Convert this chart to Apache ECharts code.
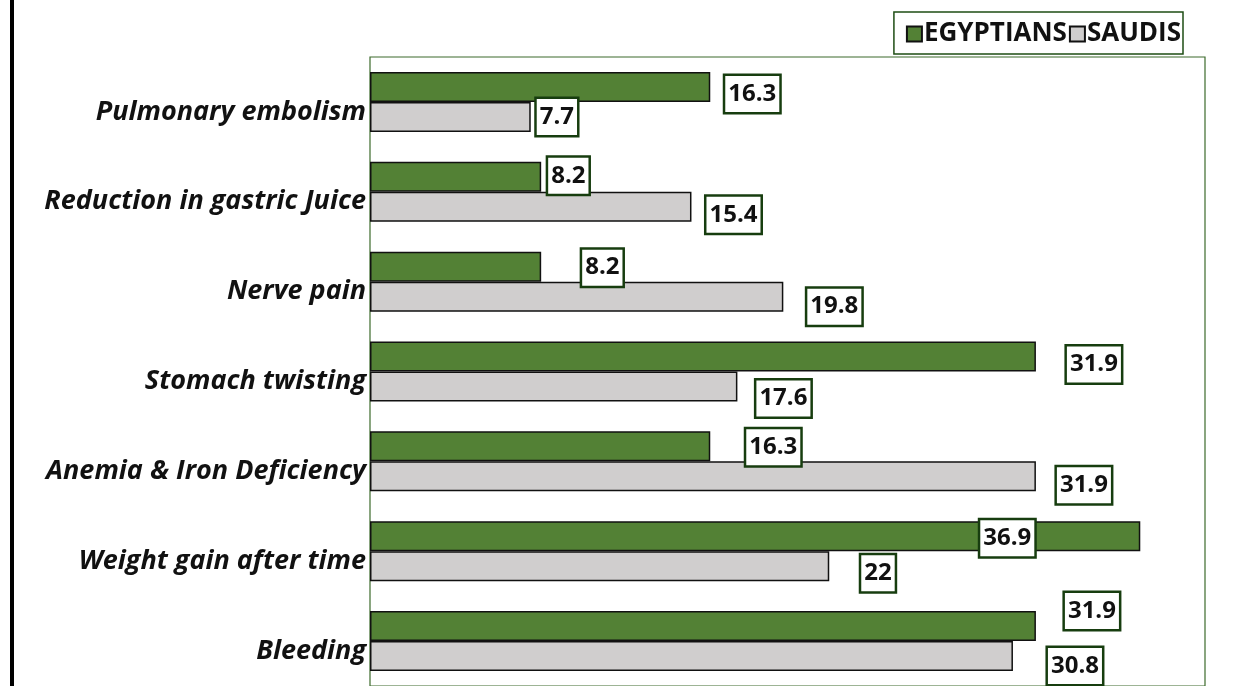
<!DOCTYPE html>
<html><head><meta charset="utf-8">
<script src="https://cdn.jsdelivr.net/npm/echarts@6/dist/echarts.min.js"></script>
<style>html,body{margin:0;padding:0;background:#fff}#c{width:1253px;height:686px}</style>
</head><body><div id="c"></div>
<script>
const categories = ['Pulmonary embolism','Reduction in gastric Juice','Nerve pain','Stomach twisting','Anemia & Iron Deficiency','Weight gain after time','Bleeding'];
const seriesNames = ['EGYPTIANS','SAUDIS'];
const egyptians = [16.3, 8.2, 8.2, 31.9, 16.3, 36.9, 31.9];
const saudis = [7.7, 15.4, 19.8, 17.6, 31.9, 22, 30.8];
// label nudges (styling only)
const egyptOffsets = [[15,7],[7,-1],[41,1],[31,8],[36,1],[-160,2],[29,-15]];
const saudiOffsets = [[6,0],[15,8],[24,10],[19,12],[21,9],[32,7],[35,10]];

const chart = echarts.init(document.getElementById('c'));
const labelBase = {
  show: true, position: 'right', distance: 0,
  fontFamily: 'Open Sans', fontWeight: 'bold', fontSize: 24, color: '#111',
  backgroundColor: '#fff', borderColor: '#173d0f', borderWidth: 2.5,
  padding: [8, 3, 0, 3], lineHeight: 28
};
function mk(vals, offs){
  return vals.map((v,i)=>({value:v, label:{offset:offs[i]}}));
}
chart.setOption({
  animation: false,
  graphic: [{type:'rect', shape:{x:10,y:0,width:4,height:686}, style:{fill:'#000'}}],
  legend: {
    data: seriesNames, right: 70, top: 12,
    itemWidth: 15, itemHeight: 15, itemGap: 2,
    borderColor: '#1e4d14', borderWidth: 1.5, padding: [9, 2, 7, 12],
    textStyle: {fontFamily: 'Open Sans', fontWeight: 'bold', fontSize: 26, color: '#111', padding:[6,0,0,-3]},
    icon: 'rect'
  },
  grid: {left: 370, top: 57, width: 835, height: 630, show: true, borderColor: '#3c6b2c', borderWidth: 1.2, backgroundColor: '#fff'},
  xAxis: {type: 'value', min: 0, max: 40, show: false},
  yAxis: {
    type: 'category', data: categories, inverse: true,
    axisLine: {show: false}, axisTick: {show: false},
    axisLabel: {fontFamily: 'Open Sans', fontWeight: 'bold', fontStyle: 'italic', fontSize: 27, color: '#111', margin: 4,
      verticalAlign: 'top', lineHeight: 28, padding: [-4, 0, 0, 0]}
  },
  series: [
    {name: seriesNames[0], type: 'bar', data: mk(egyptians, egyptOffsets), barWidth: 30, barGap: '0%',
     itemStyle: {color: '#538135', borderColor: '#111', borderWidth: 1.5}, label: labelBase},
    {name: seriesNames[1], type: 'bar', data: mk(saudis, saudiOffsets), barWidth: 30, barGap: '0%',
     itemStyle: {color: '#d0cece', borderColor: '#111', borderWidth: 1.5}, label: labelBase}
  ]
});
</script></body></html>
